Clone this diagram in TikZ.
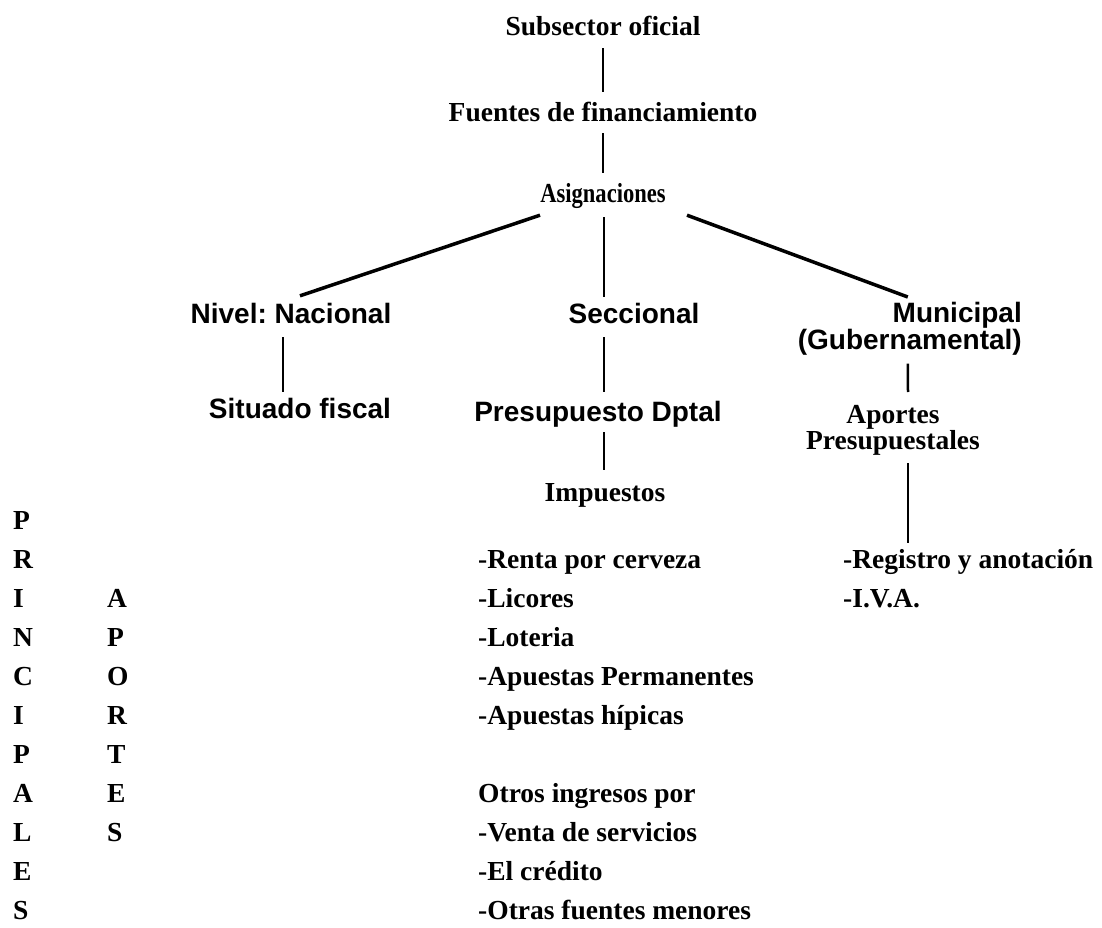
\documentclass[tikz,border=0pt]{standalone}
\usepackage{fontspec}
\usepackage{graphicx}
\setmainfont{Liberation Serif}
\newfontfamily\labsans{Liberation Sans}
\usetikzlibrary{calc}
\frenchspacing
\begin{document}
\begin{tikzpicture}[x=1pt,y=-1pt,
  ser/.style={font=\fontsize{27.5}{31}\selectfont\bfseries, inner sep=0pt, text height=18pt, text depth=0pt},
  sertwo/.style={font=\fontsize{27.5}{24}\selectfont\bfseries, inner sep=0pt, align=center},
  sans/.style={font=\labsans\fontsize{28}{25}\selectfont\bfseries, inner sep=0pt, text height=20pt, text depth=0pt},
  sanstwo/.style={font=\labsans\fontsize{28}{25}\selectfont\bfseries, inner sep=0pt, text width=230pt, align=right},
  item/.style={ser, anchor=west},
  conn/.style={line width=2.5pt},
  diag/.style={line width=3.5pt}]
\useasboundingbox (0,0) rectangle (1102,928);

% top chain
\node[ser] (sub) at (603,27) {Subsector oficial};
\node[ser] (fue) at (603,113) {Fuentes de financiamiento};
\node[ser] (asig) at (603,194) {\scalebox{0.82}[1]{Asignaciones}};

% level 2
\node[sans] (nac) at (291,313) {Nivel: Nacional};
\node[sans] (secc) at (634,313) {Seccional};
\node[sanstwo, anchor=north east] (muni) at (1022,302) {Municipal\\(Gubernamental)};

% level 3
\node[sans] (sit) at (300,408) {Situado fiscal};
\node[sans] (pres) at (598,411) {Presupuesto Dptal};
\node[sertwo, anchor=north] (aport) at (893,405) {Aportes\\Presupuestales};
\node[ser] (imp) at (605,492) {Impuestos};

% lists
\node[item] (i1) at (478,559) {-Renta por cerveza};
\node[item] (i2) at (478,598) {-Licores};
\node[item] (i3) at (478,637) {-Loteria};
\node[item] (i4) at (478,676) {-Apuestas Permanentes};
\node[item] (i5) at (478,715) {-Apuestas hípicas};
\node[item] (i6) at (478,793) {Otros ingresos por};
\node[item] (i7) at (478,832) {-Venta de servicios};
\node[item] (i8) at (478,871) {-El crédito};
\node[item] (i9) at (478,910) {-Otras fuentes menores};

\node[item] (reg) at (843,559) {-Registro y anotación};
\node[item] (iva) at (843,598) {-I.V.A.};

% vertical words
\foreach \c [count=\k from 0] in {P,R,I,N,C,I,P,A,L,E,S}
  \node[item] (pl\k) at (13,520+39*\k) {\c};
\foreach \c [count=\k from 1] in {A,P,O,R,T,E,S}
  \node[item] (ap\k) at (107,559+39*\k) {\c};

% connectors
\draw[conn] ($(sub.south)+(0,12)$) -- ($(fue.north)+(0,-12)$);
\draw[conn] ($(fue.south)+(0,11)$) -- ($(asig.north)+(0,-12)$);
\draw[diag] ($(asig.south)+(-63,12)$) -- ($(nac.north)+(9,-7)$);
\draw[conn] ($(asig.south)+(1,14)$) -- ($(secc.north)+(-30,-6)$);
\draw[diag] ($(asig.south)+(84,12)$) -- ($(muni.north)+(1,-5)$);
\draw[conn] ($(nac.south)+(-8,14)$) -- ($(sit.north)+(-17,-6)$);
\draw[conn] ($(secc.south)+(-30,14)$) -- ($(pres.north)+(6,-9)$);
\draw[conn] ($(pres.south)+(6,11)$) -- ($(imp.north)+(-1,-13)$);
\draw[conn] ($(muni.south)+(1,8)$) -- ($(aport.north)+(15,-13)$);
\draw[conn] ($(aport.south)+(15,8)$) -- ($(reg.north west)+(65,-7)$);
\end{tikzpicture}
\end{document}
